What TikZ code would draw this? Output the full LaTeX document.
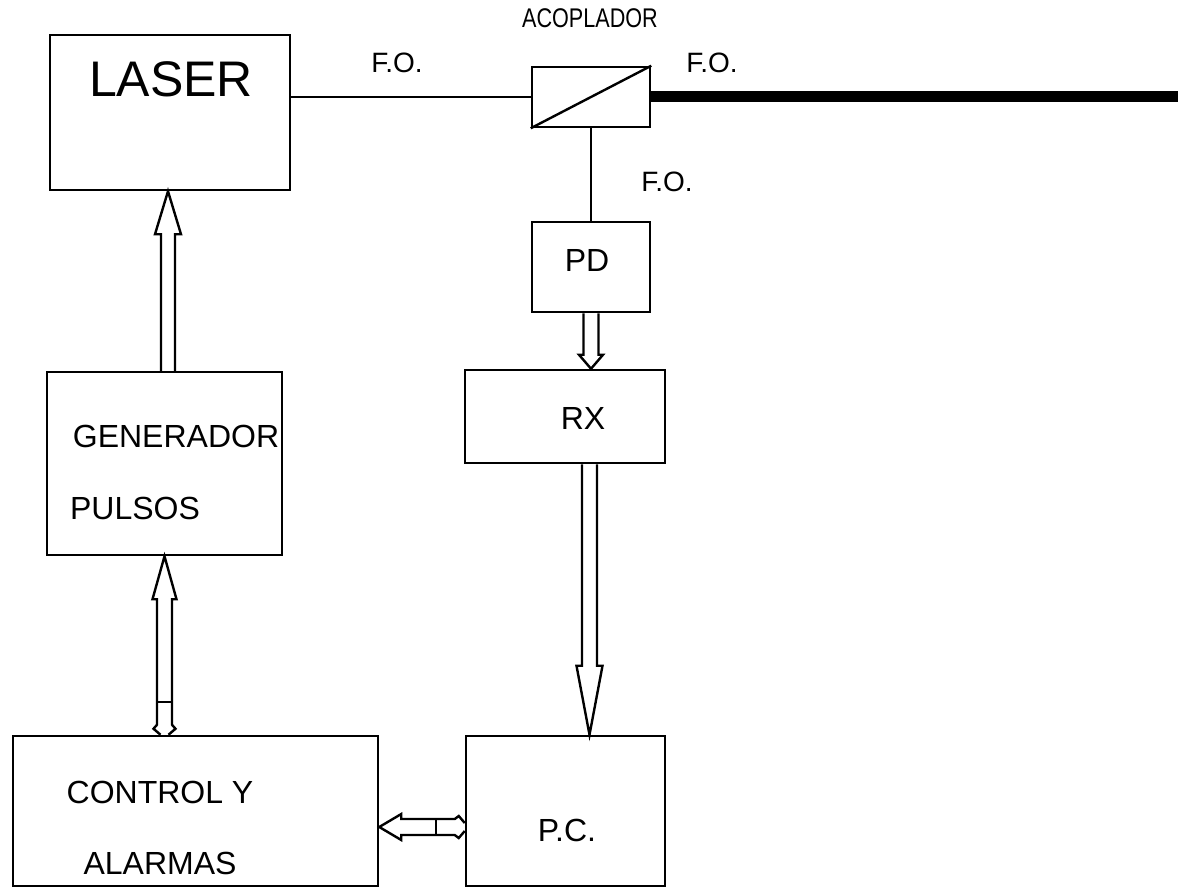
\documentclass[tikz,border=0pt]{standalone}
\usepackage{fontspec}
\setmainfont{Liberation Sans}
\usetikzlibrary{calc}
\newcommand\hollowarrow[5]{% tail, tip, head length, shaft half width, head half width
  \path ($(#2)!#3!(#1)$) coordinate (hb);
  \draw[hollow] ($(#1)!#4!90:(#2)$) -- ($(hb)!#4!90:(#2)$) -- ($(hb)!#5!90:(#2)$) -- (#2)
    -- ($(hb)!#5!-90:(#2)$) -- ($(hb)!#4!-90:(#2)$) -- ($(#1)!#4!-90:(#2)$);}
\newcommand\dblhollowarrow[6]{% tail, tip, head length, shaft hw, head hw, bar distance
  \path ($(#2)!#3!(#1)$) coordinate (hb)
        ($(#1)!6pt!(#2)$) coordinate (fa)
        ($(#1)!10pt!(#2)$) coordinate (fb)
        ($(#1)!#6!(#2)$) coordinate (bar);
  \draw[hollow] ($(#1)!4pt!90:(#2)$) -- ($(fa)!11pt!90:(#2)$) -- ($(fb)!#4!90:(#2)$)
    -- ($(hb)!#4!90:(#2)$) -- ($(hb)!#5!90:(#2)$) -- (#2)
    -- ($(hb)!#5!-90:(#2)$) -- ($(hb)!#4!-90:(#2)$) -- ($(fb)!#4!-90:(#2)$)
    -- ($(fa)!11pt!-90:(#2)$) -- ($(#1)!4pt!-90:(#2)$);
  \draw[line width=2.2pt] ($(bar)!#4!90:(#2)$) -- ($(bar)!#4!-90:(#2)$);}
\begin{document}
\begin{tikzpicture}[x=1pt,y=-1pt,
  box/.style={draw, line width=2.5pt, inner sep=0pt},
  lbl/.style={inner sep=0pt, font=\fontsize{32}{32}\selectfont},
  hollow/.style={draw, line width=2.4pt, fill=white, line join=miter},
  fiber/.style={line width=2.4pt}]
\useasboundingbox (0,0) rectangle (1178,888);
% boxes
\node[box, minimum width=240pt, minimum height=155pt] (laser) at (170,112.5) {};
\node[box, minimum width=118pt, minimum height=60pt] (coup) at (591,97) {};
\node[box, minimum width=118pt, minimum height=90pt] (pd) at (591,267) {};
\node[box, minimum width=200pt, minimum height=93pt] (rx) at (565,416.5) {};
\node[box, minimum width=235pt, minimum height=183pt] (gen) at (164.5,463.5) {};
\node[box, minimum width=365pt, minimum height=150pt] (ctrl) at (195.5,811) {};
\node[box, minimum width=199pt, minimum height=150pt] (pc) at (565.5,811) {};
% coupler diagonal
\draw[line width=2.4pt] (coup.south west) -- (coup.north east);
% labels
\node[lbl, font=\fontsize{50}{50}\selectfont] (tlaser) at (171,79) {LASER};
\node[lbl, font=\fontsize{27}{27}\selectfont, xscale=0.8] (tacop) at (590,18) {ACOPLADOR};
\node[lbl, font=\fontsize{28}{28}\selectfont] (tfo1) at (397,63) {F.O.};
\node[lbl, font=\fontsize{28}{28}\selectfont] (tfo2) at (712,63) {F.O.};
\node[lbl, font=\fontsize{28}{28}\selectfont] (tfo3) at (667,182) {F.O.};
\node[lbl] (tpd) at (587,260) {PD};
\node[lbl] (trx) at (583,418) {RX};
\node[lbl] (tgen) at (176,436) {GENERADOR};
\node[lbl] (tpul) at (135,508) {PULSOS};
\node[lbl] (tctrl) at (160,792) {CONTROL Y};
\node[lbl] (talar) at (160,863) {ALARMAS};
\node[lbl] (tpc) at (567,830) {P.C.};
% fibres
\coordinate (fend) at (1178,97);
\draw[fiber] (laser.east |- coup.west) -- (coup.west);
\draw[line width=11pt] (coup.east) -- (fend);
\draw[fiber] (coup.south) -- (pd.north);
% hollow arrows
\coordinate (g2la) at ($(gen.north)+(3.5,0)$);
\coordinate (g2lb) at (g2la |- laser.south);
\hollowarrow{g2la}{g2lb}{43pt}{7pt}{13pt}
\coordinate (c2ga) at (ctrl.north -| gen.south);
\coordinate (c2gb) at (gen.south);
\dblhollowarrow{c2ga}{c2gb}{43pt}{7.5pt}{12pt}{33pt}
\coordinate (p2ra) at (pd.south);
\coordinate (p2rb) at (pd.south |- rx.north);
\hollowarrow{p2ra}{p2rb}{14pt}{7.5pt}{12pt}
\coordinate (r2pa) at ($(rx.south)+(24.5,0)$);
\coordinate (r2pb) at (r2pa |- pc.north);
\hollowarrow{r2pa}{r2pb}{69pt}{7.5pt}{13pt}
\coordinate (pc2ca) at ($(pc.west)+(0,16)$);
\coordinate (pc2cb) at (pc2ca -| ctrl.east);
\dblhollowarrow{pc2ca}{pc2cb}{22pt}{8pt}{13pt}{29pt}
\end{tikzpicture}
\end{document}
